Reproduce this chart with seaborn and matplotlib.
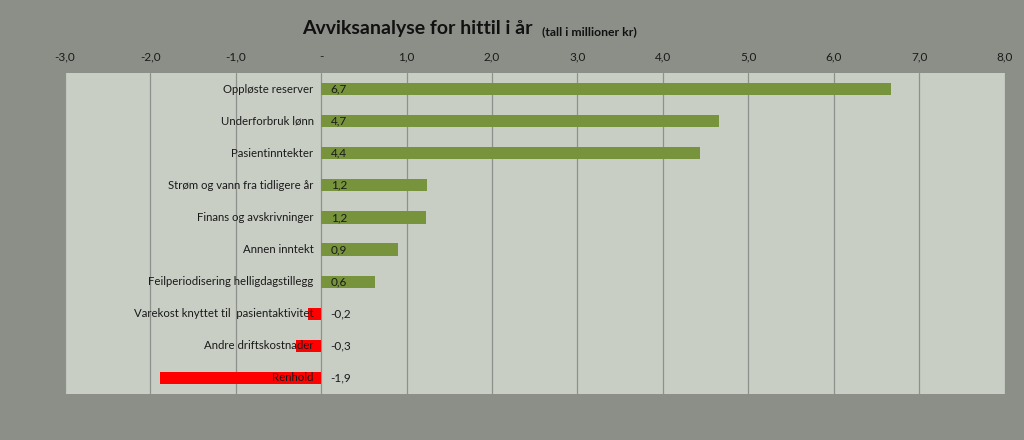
import matplotlib
matplotlib.use("Agg")
import matplotlib.pyplot as plt
import seaborn as sns
import pandas as pd
from matplotlib.ticker import FuncFormatter, MultipleLocator

categories = ["Oppløste reserver", "Underforbruk lønn", "Pasientinntekter",
              "Strøm og vann fra tidligere år", "Finans og avskrivninger",
              "Annen inntekt", "Feilperiodisering helligdagstillegg",
              "Varekost knyttet til  pasientaktivitet", "Andre driftskostnader",
              "Renhold"]
values = [6.67, 4.66, 4.44, 1.24, 1.23, 0.90, 0.63, -0.15, -0.30, -1.89]
value_labels = ["6,7", "4,7", "4,4", "1,2", "1,2", "0,9", "0,6", "-0,2", "-0,3", "-1,9"]

sns.set_theme(style="white")
plt.rcParams['font.family'] = ['Lato', 'DejaVu Sans']

fig_bg = "#8c8f88"
ax_bg = "#c9cec5"
green = "#77933c"
red = "#ff0000"

df = pd.DataFrame({"cat": categories, "val": values})
df["sign"] = ["pos" if v >= 0 else "neg" for v in values]

fig = plt.figure(figsize=(10.24, 4.4), dpi=100, facecolor=fig_bg)
ax = fig.add_axes([0.0635, 0.1045, 0.9175, 0.7295])
ax.set_facecolor(ax_bg)

sns.barplot(data=df, x="val", y="cat", hue="sign", palette={"pos": green, "neg": red},
            orient="h", width=0.38, dodge=False, legend=False, ax=ax, zorder=3,
            saturation=1, linewidth=0, edgecolor="none")

ax.set_xlim(-3, 8)
ax.xaxis.set_major_locator(MultipleLocator(1))
ax.xaxis.tick_top()
ax.xaxis.set_major_formatter(FuncFormatter(lambda v, p: "-" if abs(v) < 1e-9 else f"{v:.1f}".replace(".", ",")))
ax.tick_params(axis="x", length=0, pad=8, labelsize=8.5, labelcolor="#1a1a1a")
ax.set_yticks([])
ax.set_xlabel("")
ax.set_ylabel("")
ax.grid(axis="x", color="#8e918b", linewidth=0.9, zorder=1)
ax.set_axisbelow(True)
for s in ax.spines.values():
    s.set_visible(False)

for i, (cat, lab) in enumerate(zip(categories, value_labels)):
    ax.text(-0.09, i, cat, ha="right", va="center", fontsize=8.2, color="#1a1a1a", zorder=5)
    ax.text(0.11, i, lab, ha="left", va="center", fontsize=8.5, color="#1a1a1a", zorder=5)

fig.text(0.295, 0.935, "Avviksanalyse for hittil i år", fontsize=14, fontweight="bold",
         ha="left", va="center", color="#111111")
fig.text(0.529, 0.927, "(tall i millioner kr)", fontsize=8.8, fontweight="bold",
         ha="left", va="center", color="#111111")

fig.savefig("out.png", dpi=100, facecolor=fig_bg)
